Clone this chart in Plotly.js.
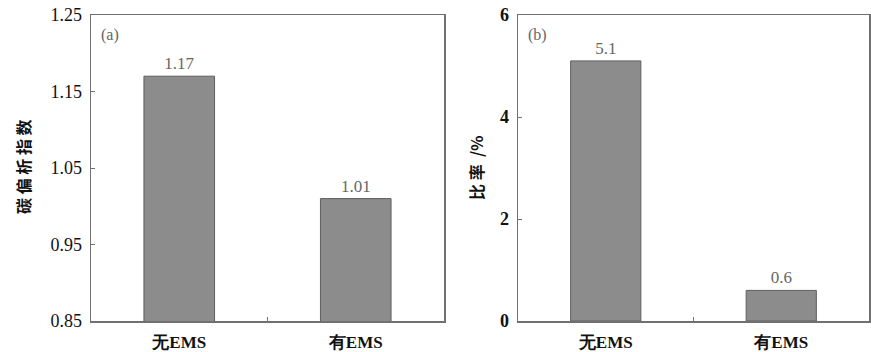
<!DOCTYPE html>
<html>
<head>
<meta charset="utf-8">
<script src="https://cdn.plot.ly/plotly-3.0.1.min.js"></script>
<style>html,body{margin:0;padding:0;background:#fff;}#chart{width:871px;height:352px;}</style>
</head>
<body>
<div id="chart"></div>
<script>
const categories = ['无EMS', '有EMS'];
const carbonIndex = [1.17, 1.01];
const carbonText = ['1.17', '1.01'];
const ratioValues = [5.1, 0.6];
const ratioText = ['5.1', '0.6'];
const leftTicks = [0.85, 0.95, 1.05, 1.15, 1.25];
const rightTicks = [0, 2, 4, 6];
const leftTitle = '碳 偏 析 指 数';
const rightTitle = '比 率  /%';
const panelLabels = ['(a)', '(b)'];

const W = 871, H = 352;
const serif = 'Liberation Serif';
const cjk = 'Noto Sans CJK SC';
const frame = '#707070';

const barStyle = {
  type: 'bar', width: 0.4,
  marker: {color: '#8c8c8c', line: {color: '#5e5e5e', width: 1}},
  textposition: 'outside', cliponaxis: false,
  textfont: {family: serif, size: 17, color: '#666'},
  showlegend: false, hoverinfo: 'none'
};

const traces = [
  Object.assign({}, barStyle, {x: categories, y: carbonIndex, text: carbonText, xaxis: 'x', yaxis: 'y'}),
  Object.assign({}, barStyle, {x: categories, y: ratioValues, text: ratioText, xaxis: 'x2', yaxis: 'y2'})
];

const yDom = [(H - 321) / H, (H - 15) / H];
const xAxisBase = {
  type: 'category', range: [-0.5, 1.5], showline: true, linecolor: frame, linewidth: 1.5,
  mirror: true, ticks: 'inside', tickson: 'boundaries', ticklen: 4, tickcolor: frame,
  tickfont: {family: serif, size: 17, color: '#111', weight: 'bold'}, ticklabelstandoff: 5,
  showgrid: false, zeroline: false, fixedrange: true
};
const yAxisBase = {
  showline: true, linecolor: frame, linewidth: 1.5, mirror: true, ticklabelstandoff: 4,
  ticks: 'inside', ticklen: 4, tickcolor: frame, showgrid: false, zeroline: false, fixedrange: true
};

const ann = (text, px, py, font, angle) => ({
  text: text, xref: 'paper', yref: 'paper', x: px / W, y: (H - py) / H,
  xanchor: 'center', yanchor: 'middle', textangle: angle || 0, showarrow: false, font: font
});

const layout = {
  width: W, height: H,
  margin: {l: 0, r: 0, t: 0, b: 0},
  font: {family: serif},
  paper_bgcolor: '#fff', plot_bgcolor: '#fff',
  bargap: 0.6,
  xaxis: Object.assign({}, xAxisBase, {domain: [91 / W, 444 / W], anchor: 'y'}),
  yaxis: Object.assign({}, yAxisBase, {domain: yDom, anchor: 'x', range: [0.85, 1.25],
    tickvals: leftTicks, tickformat: '.2f',
    tickfont: {family: serif, size: 18, color: '#111'}}),
  xaxis2: Object.assign({}, xAxisBase, {domain: [518 / W, 869 / W], anchor: 'y2'}),
  yaxis2: Object.assign({}, yAxisBase, {domain: yDom, anchor: 'x2', range: [0, 6],
    tickvals: rightTicks,
    tickfont: {family: serif, size: 18, color: '#111', weight: 'bold'}}),
  annotations: [
    ann(leftTitle, 23, 167, {family: cjk, size: 16, color: '#111', weight: 'bold'}, -90),
    ann(rightTitle, 476, 168, {family: cjk, size: 16, color: '#111', weight: 'bold'}, -90),
    ann(panelLabels[0], 110, 35, {family: serif, size: 16, color: '#666'}),
    ann(panelLabels[1], 537, 35, {family: serif, size: 16, color: '#666'})
  ]
};

Plotly.newPlot('chart', traces, layout, {displayModeBar: false, staticPlot: true});
</script>
</body>
</html>
